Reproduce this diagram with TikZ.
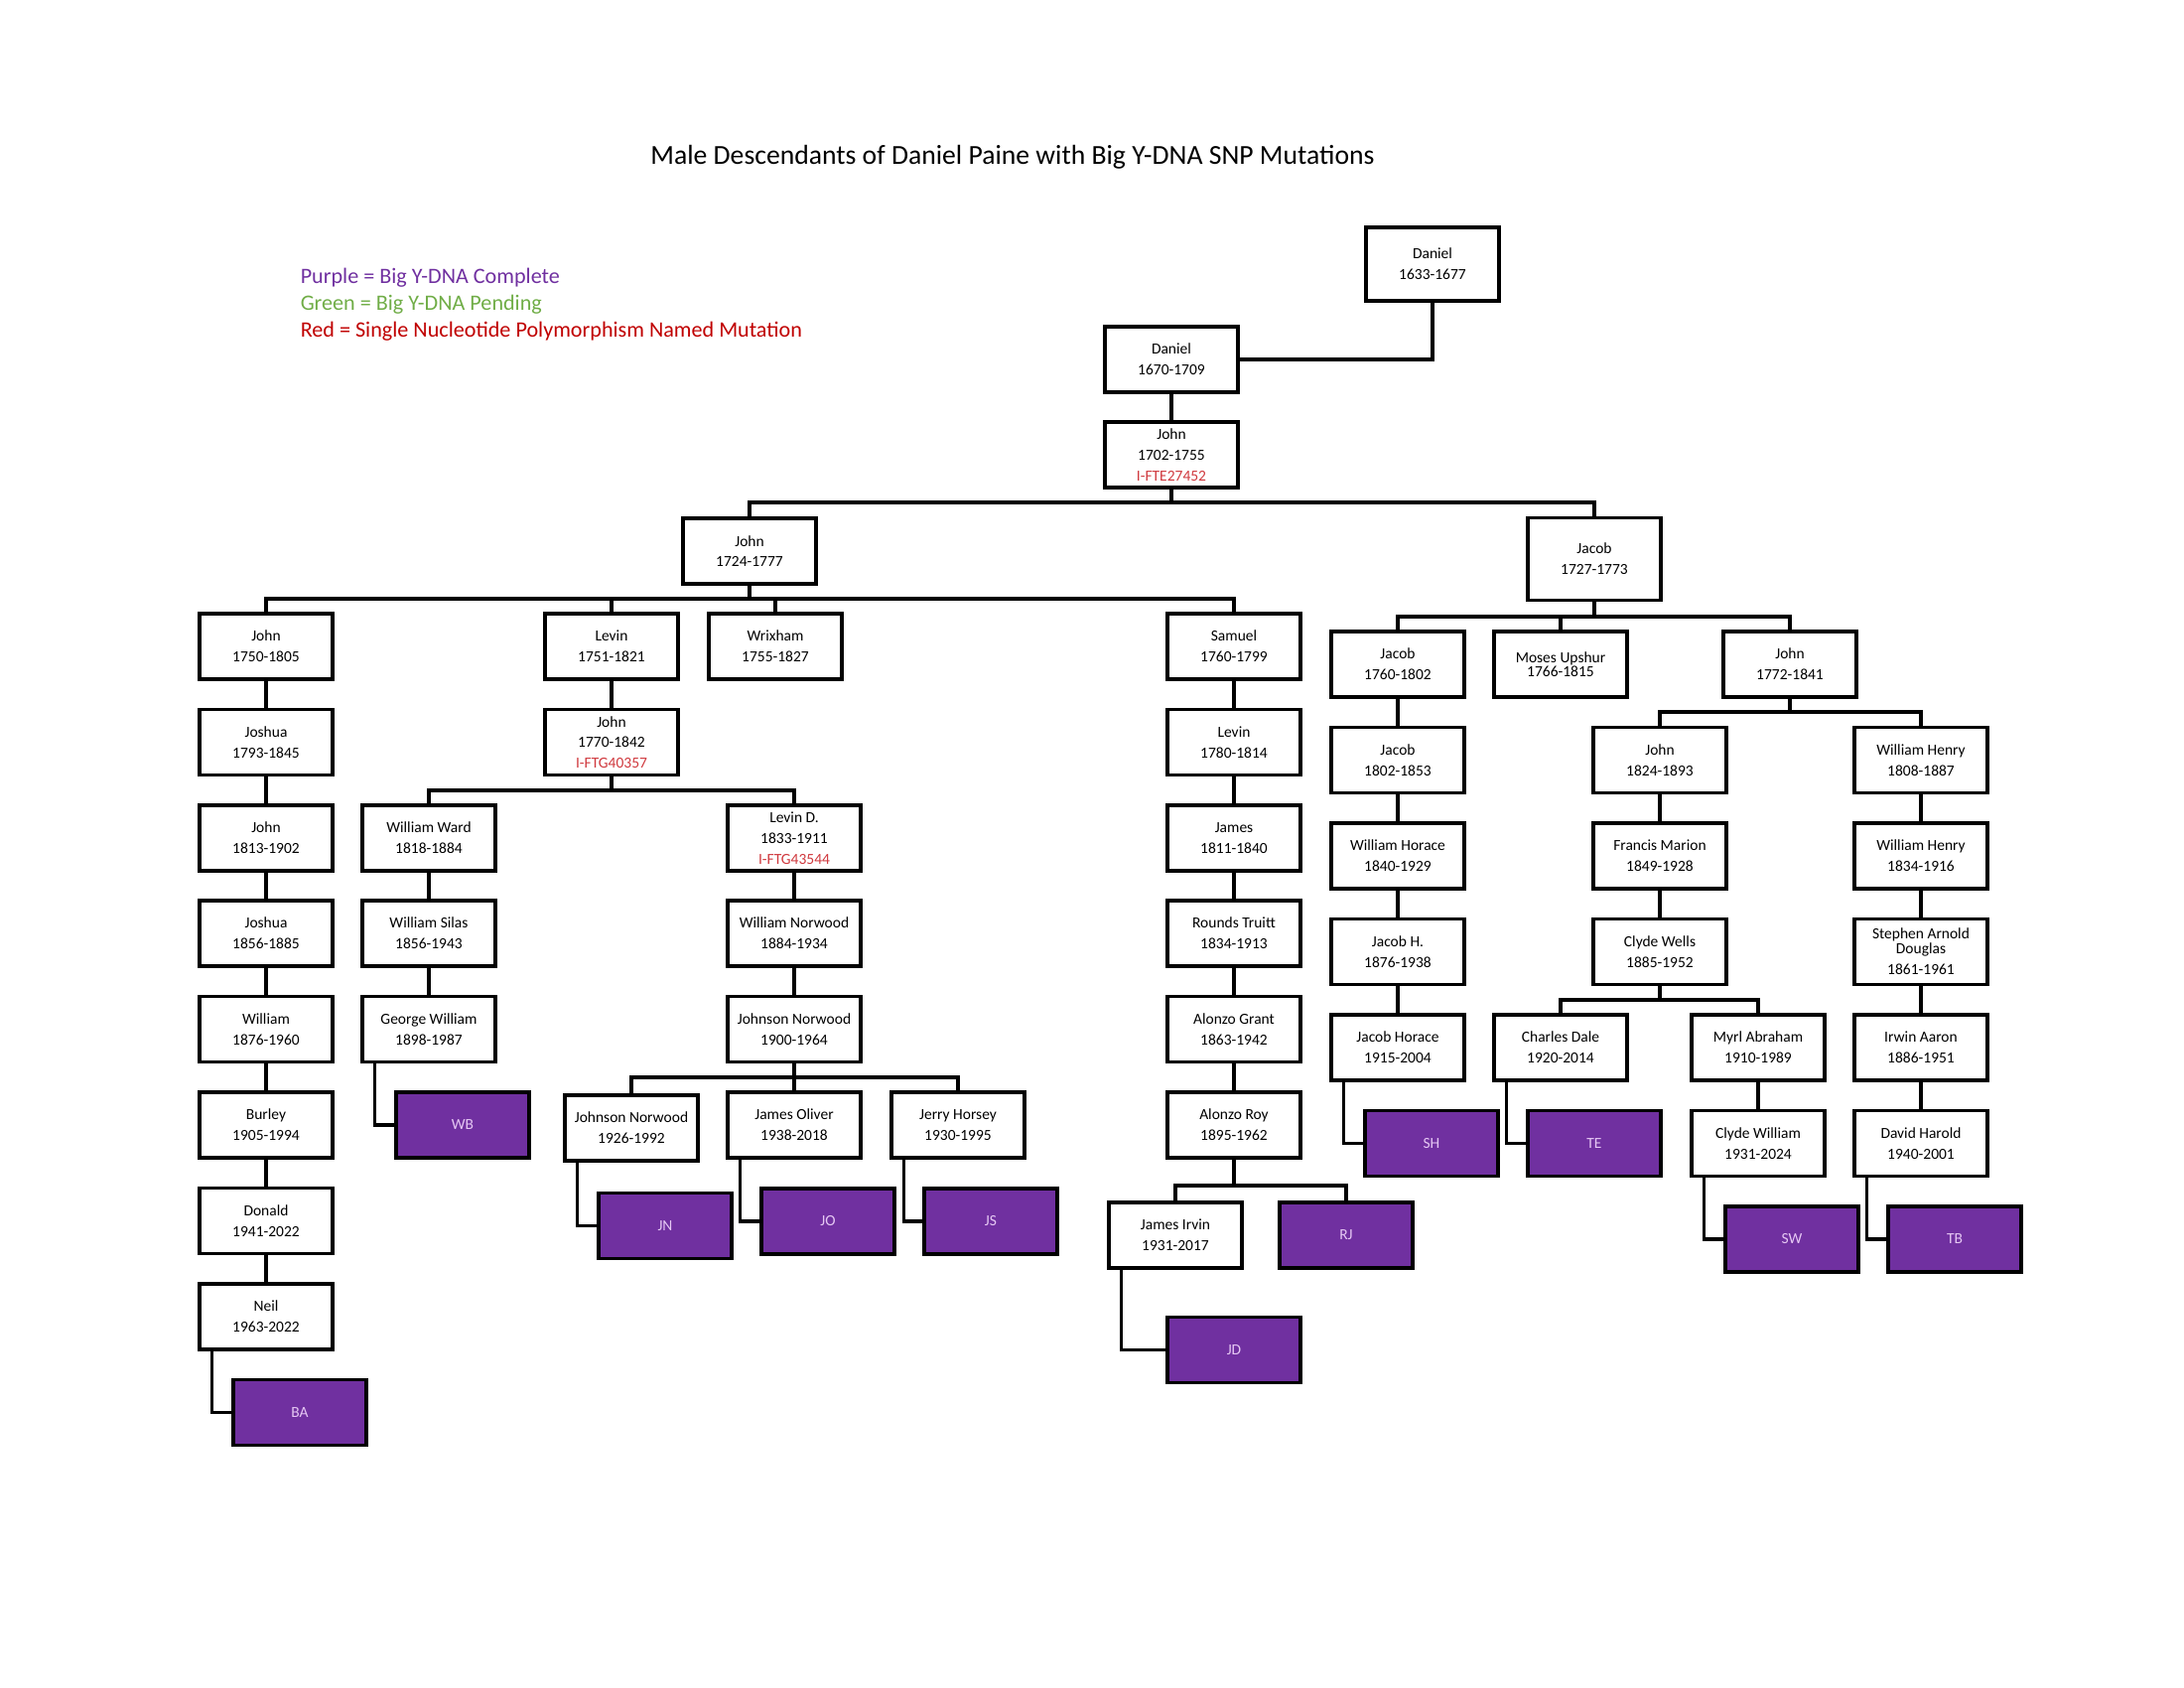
\documentclass[tikz,border=0pt]{standalone}
\usepackage{fontspec}
\setmainfont{Carlito}
\usepackage{tikz}
\definecolor{dnapurple}{HTML}{7030A0}
\definecolor{dnagreen}{HTML}{70AD47}
\definecolor{keyred}{HTML}{C00000}
\definecolor{snpred}{HTML}{D0393E}
\definecolor{lavender}{HTML}{E6C8F4}
\newcommand{\snp}[1]{\textcolor{snpred}{#1}}
\tikzset{
  person/.style={draw=black,line width=1.25pt,fill=white,minimum width=17mm,
    minimum height=8.4mm,inner sep=0pt,align=center,
    font=\fontsize{5.6}{7.5}\selectfont},
  tested/.style={person,fill=dnapurple,text=lavender},
  link/.style={line width=1.2pt},
  keytext/.style={anchor=west,font=\fontsize{8}{9.6}\selectfont}
}

\begin{document}
\begin{tikzpicture}[x=0.127mm,y=-0.127mm]
  \useasboundingbox (0,0) rectangle (2200,1700);

  \node[font=\fontsize{10}{12}\selectfont] (title) at (1020,158)
    {Male Descendants of Daniel Paine with Big Y-DNA SNP Mutations};
  \node[keytext,text=dnapurple] (keypurple) at (293,280) {Purple = Big Y-DNA Complete};
  \node[keytext,text=dnagreen] (keygreen) at (293,307) {Green = Big Y-DNA Pending};
  \node[keytext,text=keyred] (keyred) at (293,334) {Red = Single Nucleotide Polymorphism Named Mutation};

  % top of the line
  \node[person,minimum height=9.4mm] (d1633) at (1443,266) {Daniel\\1633-1677};
  \node[person] (d1670) at (1180,362) {Daniel\\1670-1709};
  \node[person] (j1702) at (1180,458) {John\\1702-1755\\\snp{I-FTE27452}};
  \node[person] (j1724) at (755,555) {John\\1724-1777};
  \node[person,minimum height=10.6mm] (jb1727) at (1606,563) {Jacob\\1727-1773};

  % John 1724 branch
  \node[person] (j1750) at (268,651) {John\\1750-1805};
  \node[person] (lv1751) at (616,651) {Levin\\1751-1821};
  \node[person] (wx1755) at (781,651) {Wrixham\\1755-1827};
  \node[person] (sm1760) at (1243,651) {Samuel\\1760-1799};

  \node[person] (js1793) at (268,747.5) {Joshua\\1793-1845};
  \node[person] (j1813) at (268,844) {John\\1813-1902};
  \node[person] (js1856) at (268,940) {Joshua\\1856-1885};
  \node[person] (wm1876) at (268,1036.5) {William\\1876-1960};
  \node[person] (bu1905) at (268,1133) {Burley\\1905-1994};
  \node[person] (dn1941) at (268,1229.5) {Donald\\1941-2022};
  \node[person] (nl1963) at (268,1326) {Neil\\1963-2022};
  \node[tested] (ba) at (302,1422.5) {BA};

  \node[person] (j1770) at (616,747.5) {John\\1770-1842\\\snp{I-FTG40357}};
  \node[person] (ww1818) at (432,844) {William Ward\\1818-1884};
  \node[person] (ws1856) at (432,940) {William Silas\\1856-1943};
  \node[person] (gw1898) at (432,1036.5) {George William\\1898-1987};
  \node[tested] (wb) at (466,1133) {WB};

  \node[person] (ld1833) at (800,844) {Levin D.\\1833-1911\\\snp{I-FTG43544}};
  \node[person] (wn1884) at (800,940) {William Norwood\\1884-1934};
  \node[person] (jn1900) at (800,1036.5) {Johnson Norwood\\1900-1964};
  \node[person] (jn1926) at (636,1136) {Johnson Norwood\\1926-1992};
  \node[person] (jo1938) at (800,1133) {James Oliver\\1938-2018};
  \node[person] (jh1930) at (965,1133) {Jerry Horsey\\1930-1995};
  \node[tested] (jn) at (670,1234.5) {JN};
  \node[tested] (jo) at (834,1230) {JO};
  \node[tested] (js) at (998,1230) {JS};

  \node[person] (lv1780) at (1243,747.5) {Levin\\1780-1814};
  \node[person] (jm1811) at (1243,844) {James\\1811-1840};
  \node[person] (rt1834) at (1243,940) {Rounds Truitt\\1834-1913};
  \node[person] (ag1863) at (1243,1036.5) {Alonzo Grant\\1863-1942};
  \node[person] (ar1895) at (1243,1133) {Alonzo Roy\\1895-1962};
  \node[person] (ji1931) at (1184,1244) {James Irvin\\1931-2017};
  \node[tested] (rj) at (1356,1244) {RJ};
  \node[tested] (jd) at (1243,1359.5) {JD};

  % Jacob 1727 branch
  \node[person] (jb1760) at (1408,669) {Jacob\\1760-1802};
  \node[person,font=\fontsize{5.6}{5.2}\selectfont] (mu1766) at (1572,669) {Moses Upshur\\1766-1815};
  \node[person] (j1772) at (1803,669) {John\\1772-1841};

  \node[person] (jb1802) at (1408,765.5) {Jacob\\1802-1853};
  \node[person] (wh1840) at (1408,862) {William Horace\\1840-1929};
  \node[person] (jh1876) at (1408,958.5) {Jacob H.\\1876-1938};
  \node[person] (jh1915) at (1408,1055) {Jacob Horace\\1915-2004};
  \node[tested] (sh) at (1442,1151.5) {SH};

  \node[person] (j1824) at (1672,765.5) {John\\1824-1893};
  \node[person] (fm1849) at (1672,862) {Francis Marion\\1849-1928};
  \node[person] (cw1885) at (1672,958.5) {Clyde Wells\\1885-1952};
  \node[person] (cd1920) at (1572,1055) {Charles Dale\\1920-2014};
  \node[person] (ma1910) at (1771,1055) {Myrl Abraham\\1910-1989};
  \node[tested] (te) at (1606,1151.5) {TE};
  \node[person] (cw1931) at (1771,1151.5) {Clyde William\\1931-2024};
  \node[tested] (sw) at (1805,1248) {SW};

  \node[person] (wh1808) at (1935,765.5) {William Henry\\1808-1887};
  \node[person] (wh1834) at (1935,862) {William Henry\\1834-1916};
  \node[person,font=\fontsize{5.6}{5.3}\selectfont] (sd1861) at (1935,958.5) {Stephen Arnold\\Douglas\\[2.3pt]1861-1961};
  \node[person] (ia1886) at (1935,1055) {Irwin Aaron\\1886-1951};
  \node[person] (dh1940) at (1935,1151.5) {David Harold\\1940-2001};
  \node[tested] (tb) at (1969,1248) {TB};

  % connectors
  \draw[link] (d1670.east) -| (d1633.south);
  \foreach \a/\b in {d1670/j1702,j1750/js1793,js1793/j1813,j1813/js1856,js1856/wm1876,
      wm1876/bu1905,bu1905/dn1941,dn1941/nl1963,lv1751/j1770,ww1818/ws1856,ws1856/gw1898,
      ld1833/wn1884,wn1884/jn1900,sm1760/lv1780,lv1780/jm1811,jm1811/rt1834,rt1834/ag1863,
      ag1863/ar1895,jb1760/jb1802,jb1802/wh1840,wh1840/jh1876,jh1876/jh1915,j1824/fm1849,
      fm1849/cw1885,ma1910/cw1931,wh1808/wh1834,wh1834/sd1861,sd1861/ia1886,ia1886/dh1940}
    \draw[link] (\a.south) -- (\b.north);

  \foreach \p/\y/\c in {j1702/506/j1724,j1702/506/jb1727,
      j1724/603/j1750,j1724/603/lv1751,j1724/603/wx1755,j1724/603/sm1760,
      j1770/796/ww1818,j1770/796/ld1833,
      jn1900/1085/jn1926,jn1900/1085/jo1938,jn1900/1085/jh1930,
      ar1895/1194/ji1931,ar1895/1194/rj,
      jb1727/621/jb1760,jb1727/621/mu1766,jb1727/621/j1772,
      j1772/717/j1824,j1772/717/wh1808,
      cw1885/1007/cd1920,cw1885/1007/ma1910}
    \draw[link] (\p.south) -- (\p.south |- 0,\y) -| (\c.north);

  \foreach \a/\b in {nl1963/ba,gw1898/wb,jn1926/jn,jo1938/jo,jh1930/js,ji1931/jd,
      jh1915/sh,cd1920/te,cw1931/sw,dh1940/tb}
    \draw[link] ([xshift=1.8mm]\a.south west) |- (\b.west);
\end{tikzpicture}
\end{document}
